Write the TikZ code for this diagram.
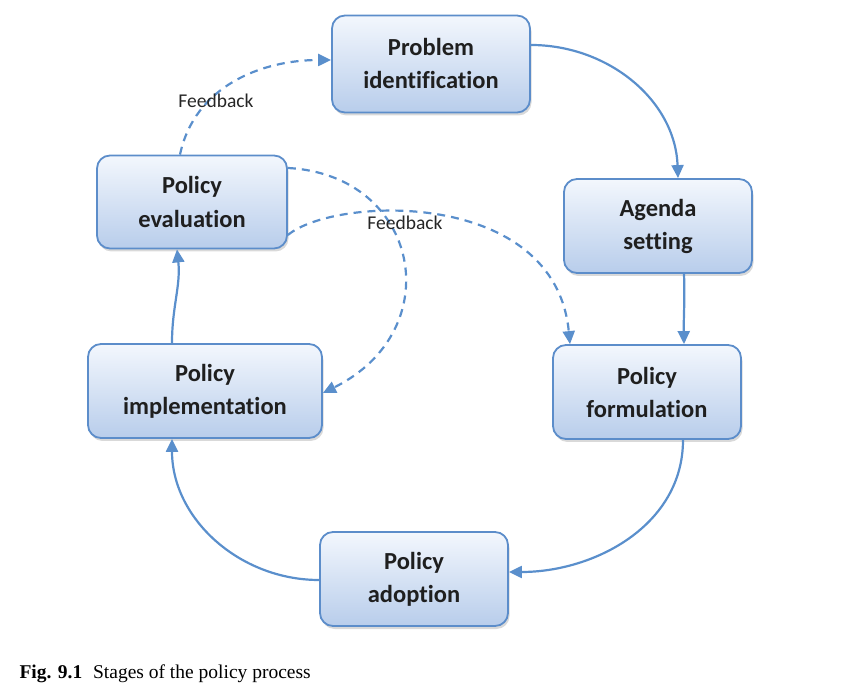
\documentclass[tikz,border=0pt]{standalone}
\usepackage{fontspec}
\setmainfont{Carlito}[Ligatures=CommonOff]
\newfontfamily\captionfont{Liberation Serif}
\usetikzlibrary{arrows.meta,shadows}
\definecolor{stageline}{HTML}{5C8DCA}
\definecolor{stagetop}{HTML}{F3F7FD}
\definecolor{stagebot}{HTML}{B8CDEB}
\definecolor{flowline}{HTML}{5A8FCC}
\begin{document}
\begin{tikzpicture}[x=1pt,y=1pt,
  stage/.style={draw=stageline, line width=1.8pt, rounded corners=13pt,
    top color=stagetop, bottom color=stagebot, align=center,
    minimum width=188pt, minimum height=94pt, text=black!88,
    font=\bfseries\fontsize{24.5}{33}\selectfont,
    drop shadow={shadow xshift=1.5pt, shadow yshift=-3pt, opacity=.3}},
  flow/.style={->, draw=flowline, line width=2.2pt},
  feedback/.style={flow, dash pattern=on 8pt off 6pt},
  fblabel/.style={font=\fontsize{19.5}{22}\selectfont, text=black!85},
  >={Triangle[length=13pt,width=12pt]}]
  \useasboundingbox (0,0) rectangle (867,696);

  % stages
  \node[stage, minimum width=198pt, minimum height=97pt] (problem) at (431,632) {Problem\\identification};
  \node[stage] (agenda) at (658,470) {Agenda\\setting};
  \node[stage] (formulation) at (647,304) {Policy\\formulation};
  \node[stage] (adoption) at (414,117) {Policy\\adoption};
  \node[stage, minimum width=234pt] (implementation) at (205,305) {Policy\\implementation};
  \node[stage, minimum width=190pt, minimum height=93pt] (evaluation) at (192,494) {Policy\\evaluation};

  % cycle
  \draw[flow] ([yshift=19pt]problem.east) to[out=0,in=92] ([xshift=20pt]agenda.north);
  \draw[flow] ([xshift=26pt]agenda.south) to[out=-88,in=91] ([xshift=37pt]formulation.north);
  \draw[flow] ([xshift=36pt]formulation.south) to[out=-90,in=0] ([yshift=7pt]adoption.east);
  \draw[flow] ([yshift=-1pt]adoption.west) to[out=180,in=-90] ([xshift=-33pt]implementation.south);
  \draw[flow] ([xshift=-33pt]implementation.north) to[out=90,in=-84] ([xshift=-15pt]evaluation.south);

  % feedback loops
  \draw[feedback] ([xshift=-12pt]evaluation.north) to[out=78,in=180] ([yshift=4pt]problem.west);
  \draw[feedback] ([yshift=34pt]evaluation.east) .. controls (420,521) and (450,366) .. ([yshift=-2pt]implementation.east);
  \draw[feedback] ([yshift=-33pt]evaluation.east) .. controls (335,500) and (555,508) .. ([xshift=-77pt]formulation.north);
  \node[fblabel] (fbtop) at (216,595) {Feedback};
  \node[fblabel] (fbmid) at (405,473) {Feedback};

  % caption
  \node[anchor=base west, font=\captionfont\fontsize{19.5}{24}\selectfont] (caption) at (16,18)
    {\textbf{Fig. 9.1}\hspace{0.55em}Stages of the policy process};
\end{tikzpicture}
\end{document}
